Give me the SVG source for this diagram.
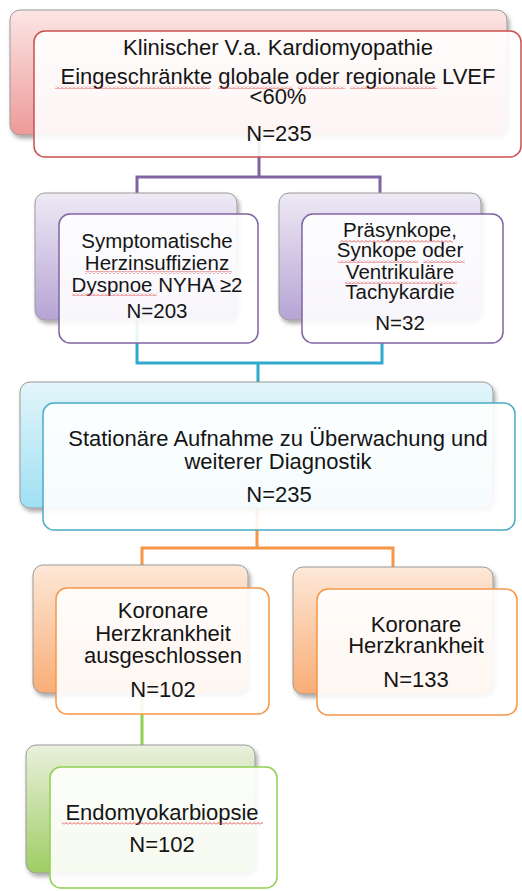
<svg xmlns="http://www.w3.org/2000/svg" width="522" height="891" viewBox="0 0 522 891">
<defs>
  <linearGradient id="gRed" x1="0" y1="0" x2="0" y2="1"><stop offset="0" stop-color="#fbe6e5"/><stop offset="1" stop-color="#ec9a98"/></linearGradient>
  <linearGradient id="gPur" x1="0" y1="0" x2="0" y2="1"><stop offset="0" stop-color="#eeeaf5"/><stop offset="1" stop-color="#b6a4d4"/></linearGradient>
  <linearGradient id="gBlu" x1="0" y1="0" x2="0" y2="1"><stop offset="0" stop-color="#e3f5fb"/><stop offset="1" stop-color="#9fe0f3"/></linearGradient>
  <linearGradient id="gOra" x1="0" y1="0" x2="0" y2="1"><stop offset="0" stop-color="#fde8d8"/><stop offset="1" stop-color="#f9ad76"/></linearGradient>
  <linearGradient id="gGre" x1="0" y1="0" x2="0" y2="1"><stop offset="0" stop-color="#e9f0dc"/><stop offset="1" stop-color="#9fcd64"/></linearGradient>
  <filter id="sh" x="-10%" y="-10%" width="125%" height="130%">
    <feDropShadow dx="2" dy="3" stdDeviation="2" flood-color="#000" flood-opacity="0.35"/>
  </filter>
  <pattern id="sq" x="0" y="0" width="4" height="3" patternUnits="userSpaceOnUse">
    <path d="M0 2.5 L2 0.5 L4 2.5" fill="none" stroke="#e04848" stroke-width="0.9"/>
  </pattern>
</defs>
<style>
  .back { stroke: #9a9a9a; stroke-width: 1; filter: url(#sh); }
  .front { fill: #ffffff; fill-opacity: 0.9; stroke-width: 1.5; }
  .t { font-family: "Liberation Sans", Arial, sans-serif; font-size: 22px; fill: #151515; text-anchor: middle; }
  .s { font-size: 20.5px; }
  .con { fill: none; stroke-width: 3; }
  .squig { fill: url(#sq); }
</style>

<g id="connectors">
  <path class="con" stroke="#8064a2" d="M259 135 V177 M137 193 V177 H380 V193"/>
  <path class="con" stroke="#31a9cb" d="M137 320 V363 H382 V343 M258 363 V383"/>
  <path class="con" stroke="#f79646" d="M257 508 V548 M142 565 V548 H393 V567"/>
  <path class="con" stroke="#8fcf52" d="M142 693 V745"/>
</g>

<g id="node-top">
  <rect class="back" x="10" y="10" width="497" height="125" rx="10" fill="url(#gRed)"/>
  <rect class="front" x="34" y="31" width="487" height="126" rx="11" stroke="#c9504d"/>
  <text class="t" x="278" y="55">Klinischer V.a. Kardiomyopathie</text>
  <text class="t" x="278" y="84">Eingeschränkte globale oder regionale LVEF</text>
  <text class="t" x="278" y="104">&lt;60%</text>
  <text class="t" x="279" y="141">N=235</text>
  <rect class="squig" x="55" y="86" width="155" height="3"/>
  <rect class="squig" x="218" y="86" width="75" height="3"/>
  <rect class="squig" x="298" y="86" width="47" height="3"/>
  <rect class="squig" x="350" y="86" width="87" height="3"/>
</g>

<g id="node-symptomatisch">
  <rect class="back" x="35" y="193" width="202" height="127" rx="10" fill="url(#gPur)"/>
  <rect class="front" x="59" y="214" width="199" height="129" rx="11" stroke="#8064a2"/>
  <text class="t s" x="157" y="248">Symptomatische</text>
  <text class="t s" x="157" y="270">Herzinsuffizienz</text>
  <text class="t s" x="157" y="292">Dyspnoe NYHA ≥2</text>
  <text class="t s" x="157" y="318">N=203</text>
  <rect class="squig" x="85" y="271" width="147" height="3"/>
  <rect class="squig" x="72" y="293" width="85" height="3"/>
</g>

<g id="node-praesynkope">
  <rect class="back" x="279" y="193" width="202" height="127" rx="10" fill="url(#gPur)"/>
  <rect class="front" x="302" y="214" width="201" height="129" rx="11" stroke="#8064a2"/>
  <text class="t s" x="400" y="237">Präsynkope,</text>
  <text class="t s" x="400" y="257">Synkope oder</text>
  <text class="t s" x="400" y="279">Ventrikuläre</text>
  <text class="t s" x="400" y="299">Tachykardie</text>
  <text class="t s" x="400" y="330">N=32</text>
  <rect class="squig" x="340" y="240" width="113" height="3"/>
  <rect class="squig" x="338" y="260" width="80" height="3"/>
  <rect class="squig" x="423" y="260" width="42" height="3"/>
  <rect class="squig" x="345" y="281" width="112" height="3"/>
</g>

<g id="node-stationaer">
  <rect class="back" x="20" y="382" width="473" height="126" rx="10" fill="url(#gBlu)"/>
  <rect class="front" x="43" y="403" width="472" height="127" rx="11" stroke="#4bacc6"/>
  <text class="t" x="278" y="446">Stationäre Aufnahme zu Überwachung und</text>
  <text class="t" x="278" y="469">weiterer Diagnostik</text>
  <text class="t" x="279" y="502">N=235</text>
</g>

<g id="node-khk-ausgeschlossen">
  <rect class="back" x="33" y="565" width="215" height="128" rx="10" fill="url(#gOra)"/>
  <rect class="front" x="56" y="588" width="213" height="126" rx="11" stroke="#f79646"/>
  <text class="t" x="163" y="618">Koronare</text>
  <text class="t" x="163" y="641">Herzkrankheit</text>
  <text class="t" x="163" y="663">ausgeschlossen</text>
  <text class="t" x="163" y="697">N=102</text>
</g>

<g id="node-khk">
  <rect class="back" x="293" y="567" width="200" height="127" rx="10" fill="url(#gOra)"/>
  <rect class="front" x="317" y="589" width="200" height="126" rx="11" stroke="#f79646"/>
  <text class="t" x="416" y="632">Koronare</text>
  <text class="t" x="416" y="653">Herzkrankheit</text>
  <text class="t" x="416" y="687">N=133</text>
</g>

<g id="node-endomyokarbiopsie">
  <rect class="back" x="26" y="745" width="229" height="128" rx="10" fill="url(#gGre)"/>
  <rect class="front" x="50" y="767" width="227" height="121" rx="11" stroke="#8fcf52"/>
  <text class="t" x="162" y="820">Endomyokarbiopsie</text>
  <text class="t" x="162" y="852">N=102</text>
  <rect class="squig" x="62" y="822" width="201" height="3"/>
</g>
</svg>
